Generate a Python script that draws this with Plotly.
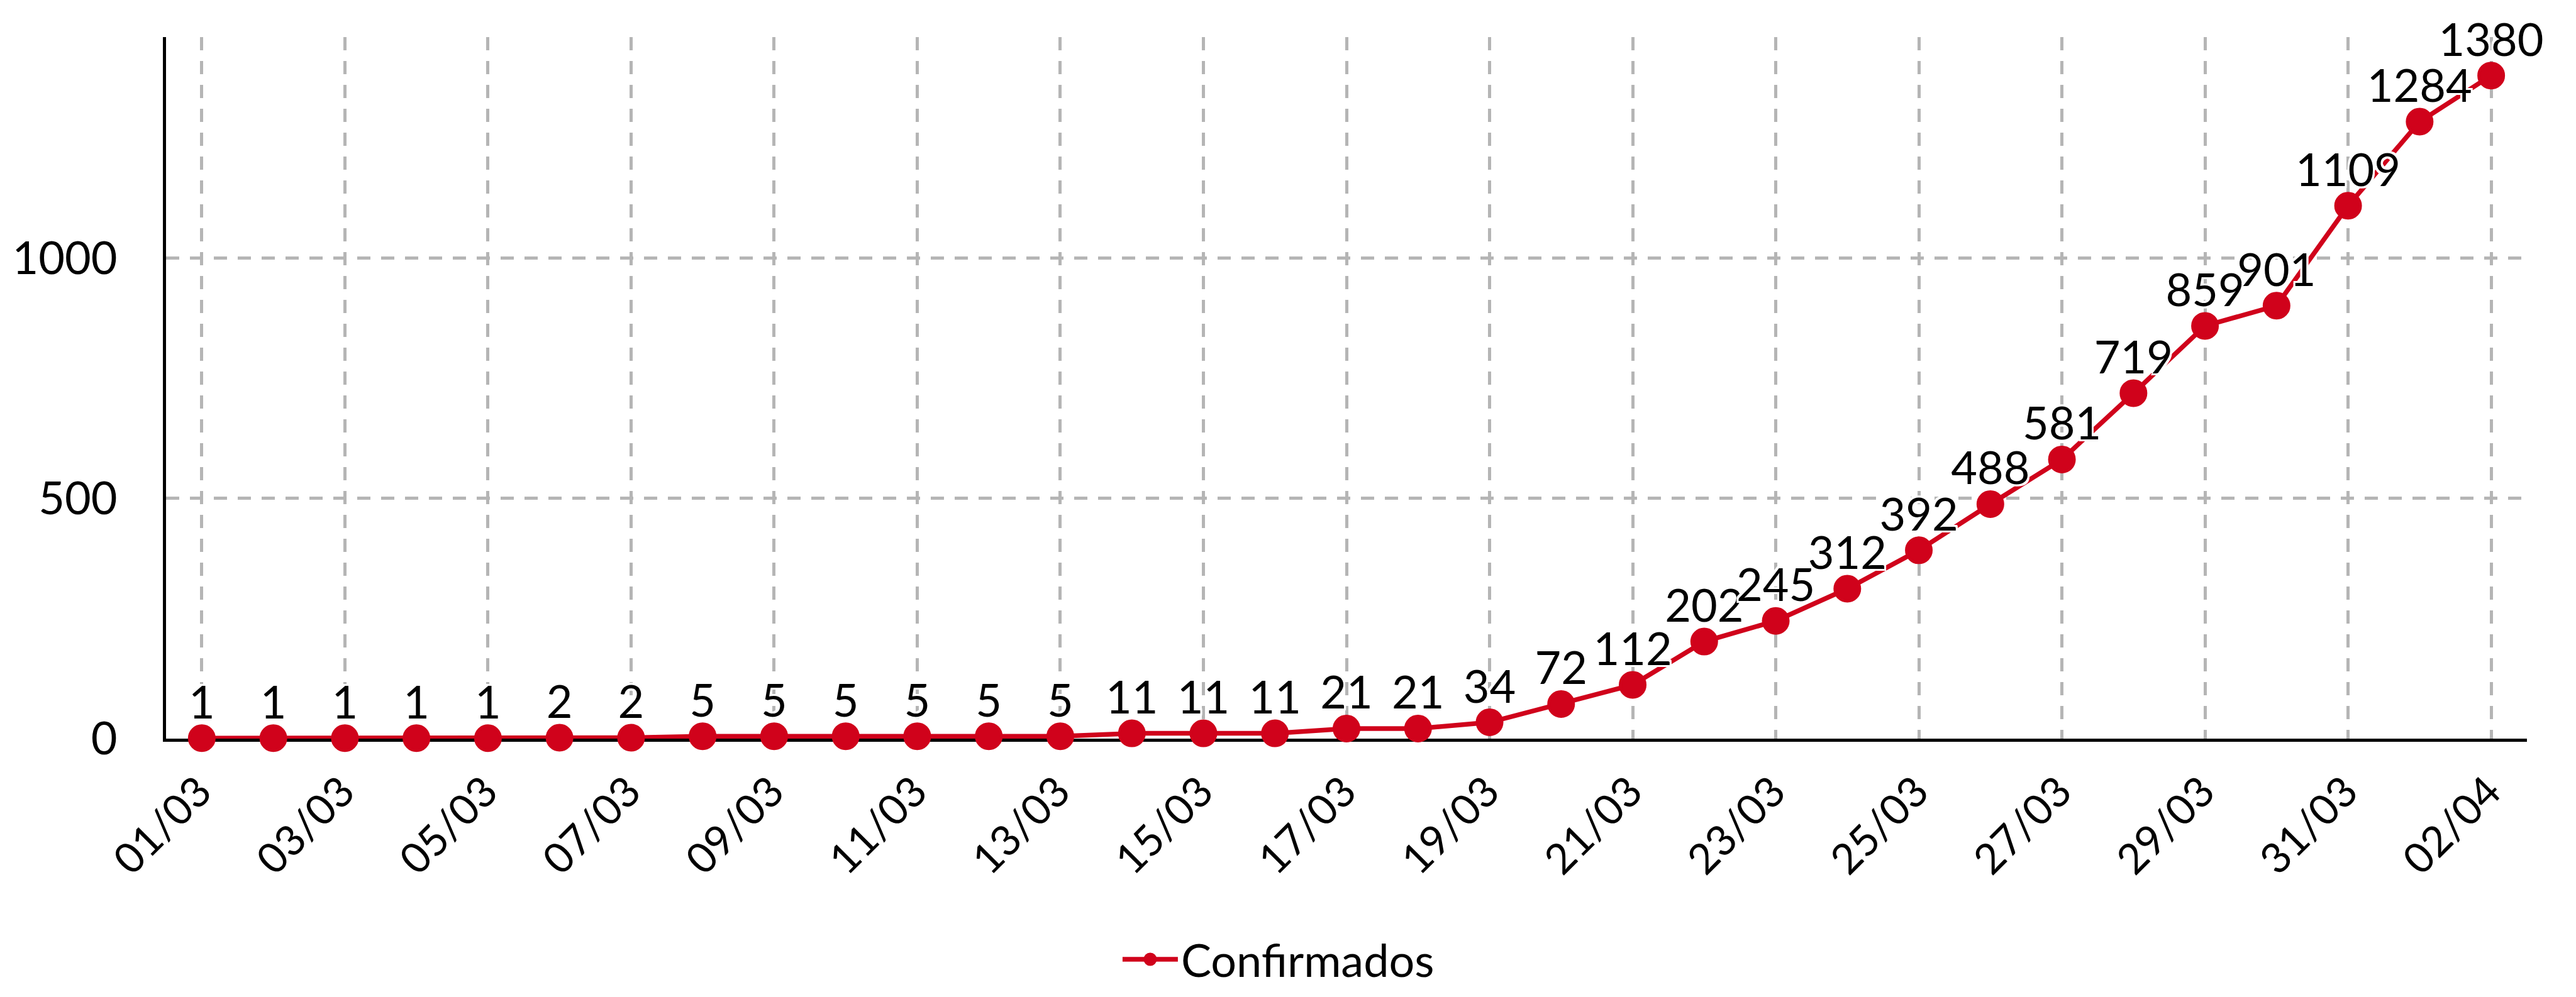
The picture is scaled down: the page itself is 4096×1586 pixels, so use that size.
import plotly.graph_objects as go

dates = ["01/03", "02/03", "03/03", "04/03", "05/03", "06/03", "07/03", "08/03", "09/03",
         "10/03", "11/03", "12/03", "13/03", "14/03", "15/03", "16/03", "17/03", "18/03",
         "19/03", "20/03", "21/03", "22/03", "23/03", "24/03", "25/03", "26/03", "27/03",
         "28/03", "29/03", "30/03", "31/03", "01/04", "02/04"]
confirmados = [1, 1, 1, 1, 1, 2, 2, 5, 5, 5, 5, 5, 5, 11, 11, 11, 21, 21, 34, 72, 112,
               202, 245, 312, 392, 488, 581, 719, 859, 901, 1109, 1284, 1380]
x_ticks = dates[::2]
y_ticks = [0, 500, 1000]

RED = "#d0021b"
GRID = "#b5b5b5"
FONT = "Lato"
HALO = "-3px -3px 0 #fff, 3px -3px 0 #fff, -3px 3px 0 #fff, 3px 3px 0 #fff, 0 -3px 0 #fff, 0 3px 0 #fff, -3px 0 0 #fff, 3px 0 0 #fff"

fig = go.Figure()
fig.add_trace(go.Scatter(
    x=dates, y=confirmados, name="Confirmados",
    mode="lines+markers",
    line=dict(color=RED, width=7.5),
    marker=dict(color=RED, size=39, line=dict(color=RED, width=5)),
    cliponaxis=False,
))
# value labels (same data, transparent marker only sets the label offset)
fig.add_trace(go.Scatter(
    x=dates, y=confirmados, name="Confirmados",
    mode="markers+text", showlegend=False, hoverinfo="skip",
    marker=dict(color=RED, size=20, opacity=0),
    text=[str(v) for v in confirmados],
    textposition="top center",
    textfont=dict(family=FONT, size=72, color="black", shadow=HALO),
    cliponaxis=False,
))

# page body keeps its default 8px margin, so the figure is 16px smaller than the window
fig.update_layout(
    width=4080, height=1570,
    margin=dict(l=256, r=70, t=51, b=403),
    paper_bgcolor="white", plot_bgcolor="white",
    font=dict(family=FONT, size=72, color="black"),
    showlegend=True,
    legend=dict(orientation="h", xref="container", yref="container",
                x=0.4963, xanchor="center", y=0.033, yanchor="middle",
                font=dict(family=FONT, size=72, color="black"), itemwidth=88,
                bgcolor="rgba(0,0,0,0)"),
)
fig.update_xaxes(
    type="category", range=[-0.5, 32.5], automargin=False,
    tickmode="array", tickvals=x_ticks, ticktext=x_ticks,
    tickangle=-45, ticks="", ticklabelstandoff=13, ticklabelshift=-4,
    showgrid=True, gridcolor=GRID, gridwidth=5, griddash="21px,17px",
    showline=True, linecolor="black", linewidth=5,
    zeroline=False, layer="below traces",
    tickfont=dict(family=FONT, size=67, color="black"),
)
fig.update_yaxes(
    range=[0, 1460], tickmode="array", tickvals=y_ticks, automargin=False,
    ticks="", ticklabelstandoff=58,
    showgrid=True, gridcolor=GRID, gridwidth=5, griddash="21px,17px",
    showline=True, linecolor="black", linewidth=5,
    zeroline=False, layer="below traces",
    tickfont=dict(family=FONT, size=72, color="black"),
)

fig.write_html("out.html")
